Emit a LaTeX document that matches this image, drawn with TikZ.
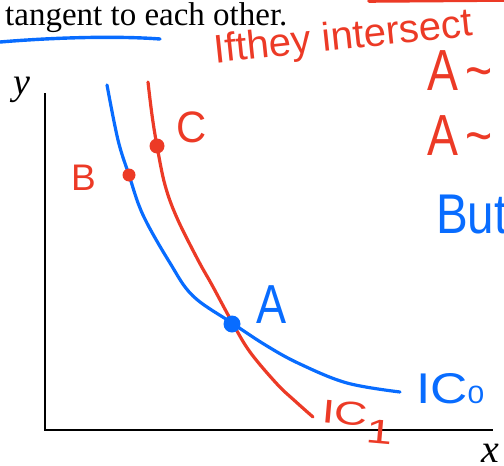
\documentclass[tikz,border=0pt]{standalone}
\usepackage{fontspec}
\setmainfont{Liberation Serif}
\newfontfamily\hand{Liberation Sans}
\definecolor{inkred}{RGB}{236,58,38}
\definecolor{inkblue}{RGB}{8,108,255}
\begin{document}
\begin{tikzpicture}[x=1pt,y=-1pt,
  redink/.style={draw=inkred,line width=3.2pt,line cap=round,line join=round},
  blueink/.style={draw=inkblue,line width=3.2pt,line cap=round,line join=round},
  axisline/.style={draw=black,line width=1.3pt},
  handred/.style={text=inkred,inner sep=0pt,outer sep=0pt},
  handblue/.style={text=inkblue,inner sep=0pt,outer sep=0pt},
  reddot/.style={circle,fill=inkred,inner sep=0pt,minimum size=13pt},
  bluedot/.style={circle,fill=inkblue,inner sep=0pt,minimum size=17pt},
  hs/.style={font=\hand\fontsize{#1}{#1}\selectfont},
  axlab/.style={inner sep=0pt,font=\itshape\fontsize{#1}{#1}\selectfont}]
\useasboundingbox (0,0) rectangle (504,466);
\clip (0,0) rectangle (504,466);

% printed text
\node[anchor=base west,inner sep=0pt,font=\fontsize{33}{33}\selectfont] (title) at (5,25) {tangent to each other.};
\draw[blueink,line width=3.4pt] (0,42) .. controls (60,37) and (120,36) .. (160,39);
\draw[redink,line width=3.6pt] (369,1) -- (504,0);

% red handwritten notes
\node[handred,hs=40,anchor=base west,rotate=6] (note) at (215,63) {Ifthey intersect};
\node[handred,hs=58,anchor=base west,xscale=0.8] (a1) at (427,90) {A\,\symbol{126}};
\node[handred,hs=58,anchor=base west,xscale=0.8] (a2) at (427,155) {A\,\symbol{126}};
\node[handblue,hs=56,anchor=base west,xscale=0.85] (but) at (436,233) {But};

% axes
\draw[axisline] (45,93) -- (45,430) -- (493,430);
\node[axlab=38] (ylab) at (22,90) {y};
\node[axlab=40,anchor=base] (xlab) at (490,462) {x};

% indifference curves
\draw[blueink] plot[smooth,tension=0.6] coordinates {(107,85) (118,140) (129,175) (143,215) (170,263) (193,296) (232,323) (267,346) (300,364) (347,383) (400,392)};
\draw[redink] plot[smooth,tension=0.6] coordinates {(148,82) (152,115) (157,146) (165,185) (177,218) (198,260) (212,285) (232,322) (250,352) (277,384) (295,401) (313,417)};

% points
\node[reddot] (B) at (129,175) {};
\node[reddot,minimum size=15pt] (C) at (157,146) {};
\node[bluedot] (A) at (232,324) {};

% labels
\node[handred,hs=37,anchor=base west] (Blab) at (71,190) {B};
\node[handred,hs=44,anchor=base west,xscale=0.95] (Clab) at (176,142) {C};
\node[handblue,hs=55,anchor=base west,xscale=0.82] (Alab) at (256,323) {A};
\node[handblue,hs=43,anchor=base west,xscale=1.2] (IC0) at (416,403) {IC\fontsize{25}{25}\selectfont 0};
\node[handred,hs=33,anchor=base west,rotate=-5,xscale=1.4] (IC1) at (321,422) {IC\raisebox{-17pt}{\fontsize{34}{34}\selectfont 1}};
\end{tikzpicture}
\end{document}
